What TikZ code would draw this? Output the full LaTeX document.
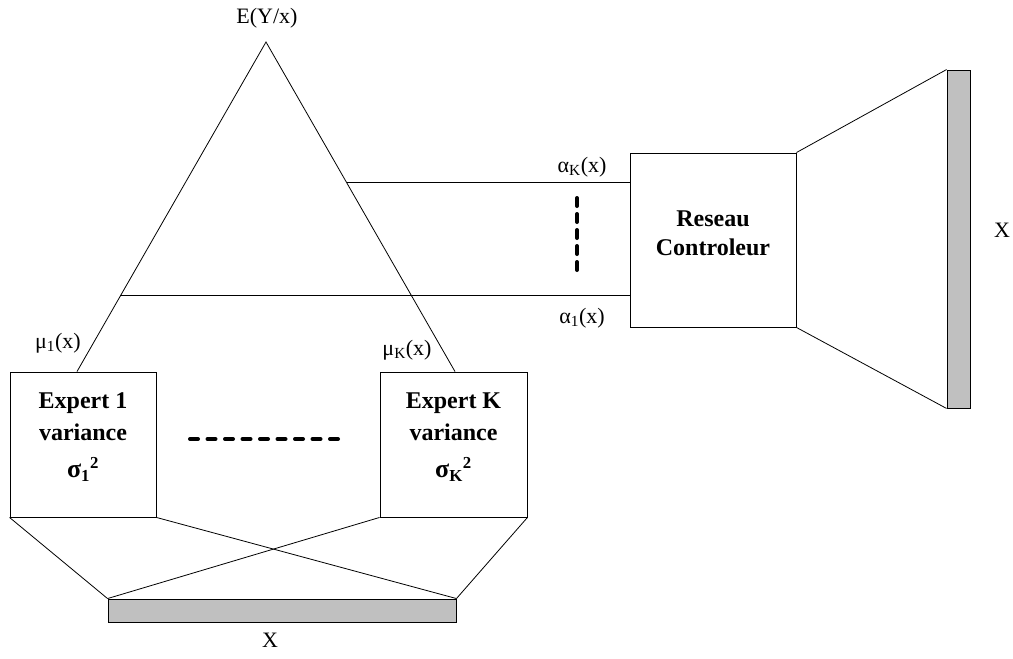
\documentclass[tikz,border=0pt]{standalone}
\usepackage{fontspec}
\setmainfont{Liberation Serif}
\usepackage{xcolor}
\usetikzlibrary{calc}
\definecolor{bargray}{RGB}{192,192,192}

\begin{document}
\begin{tikzpicture}[x=1pt,y=-1pt,
    box/.style={draw,line width=0.9pt,inner sep=0pt},
    boxtext/.style={align=center,inner sep=0pt,
      font=\fontsize{24}{32}\selectfont\bfseries},
    bar/.style={draw,line width=0.9pt,fill=bargray,inner sep=0pt},
    lbl/.style={font=\fontsize{22}{26}\selectfont,inner sep=0pt},
    dots/.style={line width=4pt,line cap=round,dash pattern=on 8pt off 9.5pt}]
        \useasboundingbox (0,0) rectangle (1013,659);

        %BOXES
        \node[box,minimum width=146,minimum height=145] (e1) at (83,444.5) {};
        \node[box,minimum width=147,minimum height=145] (eK) at (453.5,444.5) {};
        \node[box,minimum width=166,minimum height=174] (ctrl) at (713,240) {};
        \node[boxtext] (e1t) at (83,437)
            {Expert 1\\variance\\[5pt]{\fontsize{26}{32}\selectfont σ}\textsubscript{1}\textsuperscript{2}};
        \node[boxtext] (eKt) at (453.5,437)
            {Expert K\\variance\\[5pt]{\fontsize{26}{32}\selectfont σ}\textsubscript{K}\textsuperscript{2}};
        \node[boxtext,font=\fontsize{24}{29}\selectfont\bfseries] (ctrlt) at (713,233)
            {Reseau\\Controleur};

        %BARS
        \node[bar,minimum width=348,minimum height=23] (xb) at (282,610.5) {};
        \node[bar,minimum width=23,minimum height=338] (xr) at (958.5,239) {};

        %COORDINATES
        \coordinate (apex) at (266,42);
        \coordinate (m1) at ($(e1.north)+(-6,0)$);
        \coordinate (mK) at ($(eK.north)+(1.5,0)$);
        \coordinate (aK) at ($(apex)!0.427!(mK)$);
        \coordinate (a1) at ($(apex)!0.77!(m1)$);
        \coordinate (h1) at (190,439);
        \coordinate (h2) at (343,439);
        \coordinate (v1) at (577,198);
        \coordinate (v2) at (577,275);

        %TRIANGLE
        \draw[line width=0.8pt] (m1) -- (apex) -- (mK);
        \draw[line width=0.8pt] (aK) -- (aK -| ctrl.west);
        \draw[line width=0.8pt] (a1) -- (a1 -| ctrl.west);

        %LINES TO THE BARS
        \draw[line width=0.8pt] (e1.south west) -- (xb.north west);
        \draw[line width=0.8pt] (e1.south east) -- (xb.north east);
        \draw[line width=0.8pt] (eK.south west) -- (xb.north west);
        \draw[line width=0.8pt] (eK.south east) -- (xb.north east);
        \draw[line width=0.8pt] (ctrl.north east) -- (xr.north west);
        \draw[line width=0.8pt] (ctrl.south east) -- (xr.south west);

        %DOTS
        \draw[dots] (h1) -- (h2);
        \draw[dots,dash pattern=on 8pt off 8pt] (v1) -- (v2);

        %LABELS
        \node[lbl] (ey) at (267,18) {E(Y/x)};
        \node[lbl] (mu1) at (58,343) {μ\textsubscript{1}(x)};
        \node[lbl] (muK) at (407,350) {μ\textsubscript{K}(x)};
        \node[lbl] (alK) at (582,167) {α\textsubscript{K}(x)};
        \node[lbl] (al1) at (582,318) {α\textsubscript{1}(x)};
        \node[lbl] (xlb) at (270,640) {X};
        \node[lbl] (xlr) at (1002,230) {X};
    \end{tikzpicture}
\end{document}
